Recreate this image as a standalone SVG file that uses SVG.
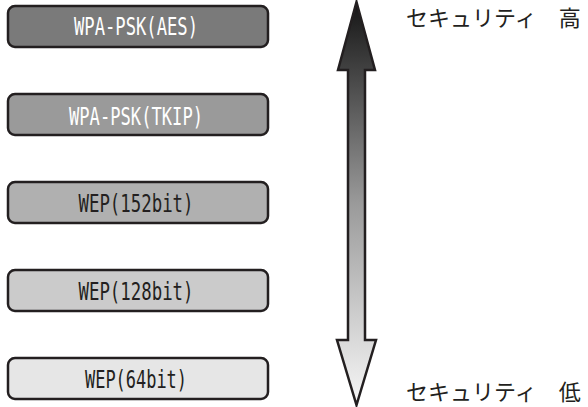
<svg xmlns="http://www.w3.org/2000/svg" width="588" height="407" viewBox="0 0 588 407">
<defs>
<linearGradient id="g" x1="0" y1="0" x2="0" y2="1">
<stop offset="0" stop-color="#151515"/>
<stop offset="0.5" stop-color="#9a9a9a"/>
<stop offset="1" stop-color="#f7f7f7"/>
</linearGradient>
<style>
.box{stroke:#231f20;stroke-width:2.5}
.t{font-family:"DejaVu Sans Mono","Liberation Mono",monospace;font-size:24px;text-anchor:middle}
.j{font-family:"Noto Sans CJK JP",sans-serif;font-size:22px;fill:#231f20}
</style>
</defs>
<g id="connectors">
<path d="M356.5,2 L375,70 L365,70 L365,340 L376,340 L356.5,405 L337,340 L348,340 L348,70 L338,70 Z" fill="url(#g)" stroke="#231f20" stroke-width="2.5" stroke-linejoin="miter"/>
</g>
<g id="n1"><rect class="box" x="8" y="6" width="260" height="41" rx="7" fill="#7a7a7a"/><text class="t" x="136" y="34.5" fill="#fff" textLength="124" lengthAdjust="spacingAndGlyphs">WPA-PSK(AES)</text></g>
<g id="n2"><rect class="box" x="8" y="94" width="260" height="41" rx="7" fill="#9a9a9a"/><text class="t" x="136" y="124.5" fill="#fff" textLength="134" lengthAdjust="spacingAndGlyphs">WPA-PSK(TKIP)</text></g>
<g id="n3"><rect class="box" x="8" y="182" width="260" height="41" rx="7" fill="#b0b0b0"/><text class="t" x="136" y="211.5" fill="#231f20" textLength="115" lengthAdjust="spacingAndGlyphs">WEP(152bit)</text></g>
<g id="n4"><rect class="box" x="8" y="270" width="260" height="41" rx="7" fill="#cbcbcb"/><text class="t" x="136" y="300" fill="#231f20" textLength="115" lengthAdjust="spacingAndGlyphs">WEP(128bit)</text></g>
<g id="n5"><rect class="box" x="8" y="358" width="260" height="41" rx="7" fill="#e6e6e6"/><text class="t" x="136" y="387.5" fill="#231f20" textLength="102" lengthAdjust="spacingAndGlyphs">WEP(64bit)</text></g>
<g id="high"><text class="j" x="406" y="26">セキュリティ　高</text></g>
<g id="low"><text class="j" x="406" y="400">セキュリティ　低</text></g>
</svg>
